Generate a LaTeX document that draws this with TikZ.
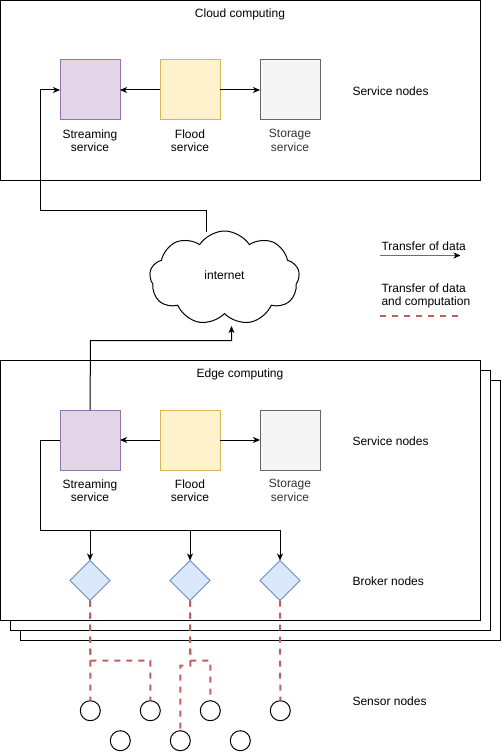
\documentclass[tikz,border=0pt]{standalone}
\usepackage{fontspec}
\setmainfont{Liberation Sans}
\usetikzlibrary{shapes.geometric,shapes.symbols,arrows.meta}
\definecolor{purpF}{HTML}{E1D5E7}\definecolor{purpS}{HTML}{9673A6}
\definecolor{yelF}{HTML}{FFF2CC}\definecolor{yelS}{HTML}{D6B656}
\definecolor{grayF}{HTML}{F5F5F5}\definecolor{grayS}{HTML}{666666}
\definecolor{grayT}{HTML}{333333}
\definecolor{blueF}{HTML}{DAE8FC}\definecolor{blueS}{HTML}{6C8EBF}
\definecolor{redS}{HTML}{C0605C}
\begin{document}
\begin{tikzpicture}[x=1pt,y=-1pt,
  font=\fontsize{12}{13.5}\selectfont,
  every node/.style={inner sep=0pt,outer sep=0pt},
  frame/.style={draw=black,fill=white,line width=1pt},
  svc/.style={draw,line width=1pt,minimum width=60pt,minimum height=60pt},
  streambox/.style={svc,fill=purpF,draw=purpS},
  floodbox/.style={svc,fill=yelF,draw=yelS},
  storebox/.style={svc,fill=grayF,draw=grayS},
  lbl/.style={align=center},
  side/.style={anchor=west},
  broker/.style={diamond,draw=blueS,fill=blueF,line width=0.8pt,minimum width=40pt,minimum height=40pt,aspect=1},
  sensor/.style={circle,draw=black,line width=1pt,minimum size=20pt},
  flow/.style={draw=black,line width=1pt,-{Stealth[length=7pt,width=6pt,inset=2pt]}},
  comp/.style={draw=redS,line width=2pt,dash pattern=on 6pt off 6pt}
]
\useasboundingbox (0,0) rectangle (501,754);

% cloud frame
\draw[frame] (0.5,0.5) rectangle (480.3,180.3);
\node (cloudtitle) at (240,14) {Cloud computing};
\node[streambox] (cs) at (90,90) {};
\node[floodbox] (cf) at (190,90) {};
\node[storebox] (cst) at (290,90) {};
\node[lbl] (csl) at (90,140.5) {Streaming\\service};
\node[lbl] (cfl) at (190,140.5) {Flood\\service};
\node[lbl,text=grayT] (cstl) at (290,140.5) {Storage\\service};
\node[side] (csn) at (352.5,91) {Service nodes};
\draw[flow] (cf.west) -- (cs.east);
\draw[flow] (cf.east) -- (cst.west);

% edge frames
\draw[frame] (20.5,380.7) rectangle (500.5,640);
\draw[frame] (10.5,370.7) rectangle (490.5,630);
\draw[frame] (0.5,360.7) rectangle (480.3,620);
\node (edgetitle) at (240,374) {Edge computing};
\node[streambox] (es) at (90,440) {};
\node[floodbox] (ef) at (190,440) {};
\node[storebox] (est) at (290,440) {};
\node[lbl] (esl) at (90,490.5) {Streaming\\service};
\node[lbl] (efl) at (190,490.5) {Flood\\service};
\node[lbl,text=grayT] (estl) at (290,490.5) {Storage\\service};
\node[side] (esn) at (352.5,441) {Service nodes};
\draw[flow] (ef.west) -- (es.east);
\draw[flow] (ef.east) -- (est.west);

% brokers
\node[broker] (b1) at (90,580.5) {};
\node[broker] (b2) at (190,580.5) {};
\node[broker] (b3) at (280,580.5) {};
\node[side] (bn) at (352.5,581) {Broker nodes};
\draw[flow] (es.west) -- (40.5,440) -- (40.5,530.5) -- (90,530.5) -- (b1.north);
\draw[flow] (es.west) -- (40.5,440) -- (40.5,530.5) -- (190,530.5) -- (b2.north);
\draw[flow] (es.west) -- (40.5,440) -- (40.5,530.5) -- (280,530.5) -- (b3.north);

% internet cloud
\node[cloud,draw=black,fill=white,line width=1pt,cloud puffs=9,cloud puff arc=115,aspect=1.6,minimum width=150pt,minimum height=94pt] (inet) at (224.5,278) {};
\node (inetl) at (224.5,275) {internet};
\coordinate (ctop) at (206.7,231.5);
\coordinate (cbot) at (231.5,326);
\draw[flow] (ctop) -- (206.7,210.5) -- (40.5,210.5) -- (40.5,90) -- (cs.west);
\draw[flow] (es.north) -- (90.5,340.5) -- (231.5,340.5) -- (cbot);

% legend
\node[side] (lg1) at (381.5,246) {Transfer of data};
\coordinate (lg1a) at (380,255.5);
\coordinate (lg1b) at (460.5,255.5);
\draw[line width=1pt,draw=gray!85!black,-{Stealth[length=7pt,width=6pt,inset=2pt,color=black]}] (lg1a) -- (lg1b);
\node[side,align=left] (lg2) at (381.5,296) {Transfer of data\\and computation};
\coordinate (lg2a) at (380,315.5);
\coordinate (lg2b) at (460.5,315.5);
\draw[comp] (lg2a) -- (lg2b);

% sensors
\node[sensor] (s1) at (90.3,710.7) {};
\node[sensor] (s2) at (150.3,710.7) {};
\node[sensor] (s3) at (210.3,710.7) {};
\node[sensor] (s4) at (280.3,710.7) {};
\node[sensor] (s5) at (120.3,740.7) {};
\node[sensor] (s6) at (180.3,740.7) {};
\node[sensor] (s7) at (240.3,740.7) {};
\node[side] (sn) at (352.5,701) {Sensor nodes};

\draw[comp] (b1.south) -- (90.3,660.5) -- (s1.north);
\draw[comp] (b1.south) -- (90.3,660.5) -- (150.3,660.5) -- (s2.north);
\draw[comp] (b2.south) -- (190.3,660.5) -- (210.3,660.5) -- (s3.north);
\draw[comp] (b2.south) -- (190.3,665.5) -- (180.3,665.5) -- (s6.north);
\draw[comp] (b3.south) -- (s4.north);
\end{tikzpicture}
\end{document}
